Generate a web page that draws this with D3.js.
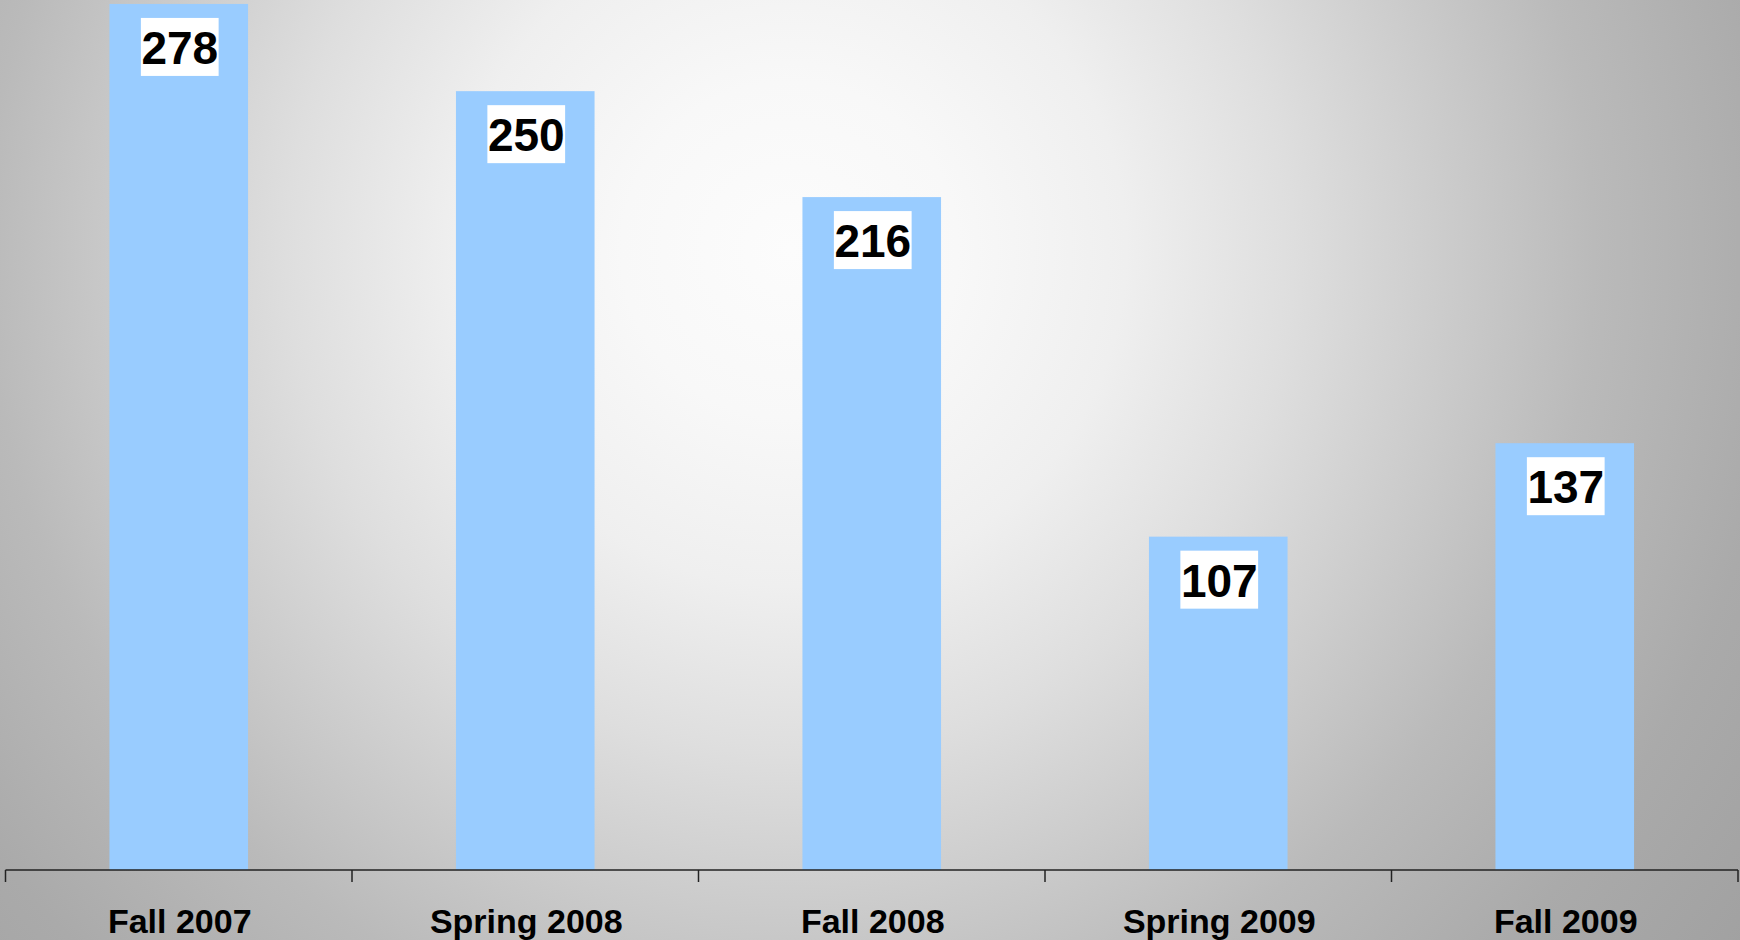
<!DOCTYPE html>
<html>
<head>
<meta charset="utf-8">
<script src="https://cdn.jsdelivr.net/npm/d3@7"></script>
<style>
  html, body { margin: 0; padding: 0; overflow: hidden; }
  svg { display: block; }
</style>
</head>
<body>
<svg id="chart" width="1740" height="940"></svg>
<script>
'use strict'

const terms = ['Fall 2007', 'Spring 2008', 'Fall 2008', 'Spring 2009', 'Fall 2009']
const counts = [278, 250, 216, 107, 137]
const yMax = 280

let width = 1740
let height = 940
let svg = d3.select('#chart')

// radial gray backdrop, light in the upper middle
let defs = svg.append('defs')
let grad = defs.append('radialGradient')
  .attr('id', 'bg')
  .attr('gradientUnits', 'userSpaceOnUse')
  .attr('cx', 790)
  .attr('cy', 250)
  .attr('r', 1200)
let stops = [[0, '#fcfcfc'], [0.14, '#f8f8f8'], [0.28, '#efefef'], [0.42, '#dedede'], [0.67, '#bababa'], [0.83, '#aaaaaa'], [1, '#a0a0a0']]
grad.selectAll('stop')
  .data(stops)
  .enter()
  .append('stop')
  .attr('offset', function (d) { return d[0] })
  .attr('stop-color', function (d) { return d[1] })
svg.append('rect')
  .attr('width', width)
  .attr('height', height)
  .attr('fill', 'url(#bg)')

let x = d3.scaleBand()
  .domain(terms)
  .range([5.5, 1738])
  .paddingInner(0.6)
  .paddingOuter(0.3)
let y = d3.scaleLinear()
  .domain([0, yMax])
  .range([870, -2.3])

let data = terms.map(function (t, i) { return {key: t, value: counts[i]} })

svg.selectAll('.bar')
  .data(data)
  .enter()
  .append('rect')
  .attr('class', 'bar')
  .attr('x', function (d) { return x(d.key) })
  .attr('y', function (d) { return y(d.value) })
  .attr('width', x.bandwidth())
  .attr('height', function (d) { return y(0) - y(d.value) })
  .attr('fill', '#99ccff')

// axis line with ticks at band boundaries
let edge = x.step() * x.paddingOuter()
let tickX = terms.map(function (t) { return x(t) - edge })
tickX.push(x.range()[1])
let axis = svg.append('g')
  .attr('class', 'x axis')
axis.append('line')
  .attr('x1', x.range()[0])
  .attr('x2', x.range()[1])
  .attr('y1', y(0))
  .attr('y2', y(0))
  .attr('stroke', '#222')
  .attr('stroke-width', 1.5)
axis.selectAll('.tick')
  .data(tickX)
  .enter()
  .append('line')
  .attr('class', 'tick')
  .attr('x1', function (d) { return d })
  .attr('x2', function (d) { return d })
  .attr('y1', y(0))
  .attr('y2', y(0) + 12)
  .attr('stroke', '#222')
  .attr('stroke-width', 1.5)
axis.selectAll('.cat')
  .data(terms)
  .enter()
  .append('text')
  .attr('class', 'cat')
  .attr('x', function (d) { return x(d) + x.bandwidth() / 2 + 1 })
  .attr('y', 933)
  .attr('text-anchor', 'middle')
  .style('font-family', 'Liberation Sans, Arial, sans-serif')
  .style('font-weight', 'bold')
  .style('font-size', '34px')
  .attr('fill', '#000')
  .text(function (d) { return d })

// value labels on white boxes
let labels = svg.selectAll('.label')
  .data(data)
  .enter()
  .append('g')
  .attr('class', 'label')
  .attr('transform', function (d) { return 'translate(' + (x(d.key) + x.bandwidth() / 2 + 1) + ',' + y(d.value) + ')' })
labels.append('rect')
  .attr('fill', '#fff')
labels.append('text')
  .attr('y', 60)
  .attr('text-anchor', 'middle')
  .style('font-family', 'Liberation Sans, Arial, sans-serif')
  .style('font-weight', 'bold')
  .style('font-size', '46px')
  .attr('fill', '#000')
  .text(function (d) { return d.value })
  .each(function () {
    let w = this.getComputedTextLength() + 1
    d3.select(this.parentNode).select('rect')
      .attr('x', -w / 2)
      .attr('y', 14)
      .attr('width', w)
      .attr('height', 58)
  })
</script>
</body>
</html>
